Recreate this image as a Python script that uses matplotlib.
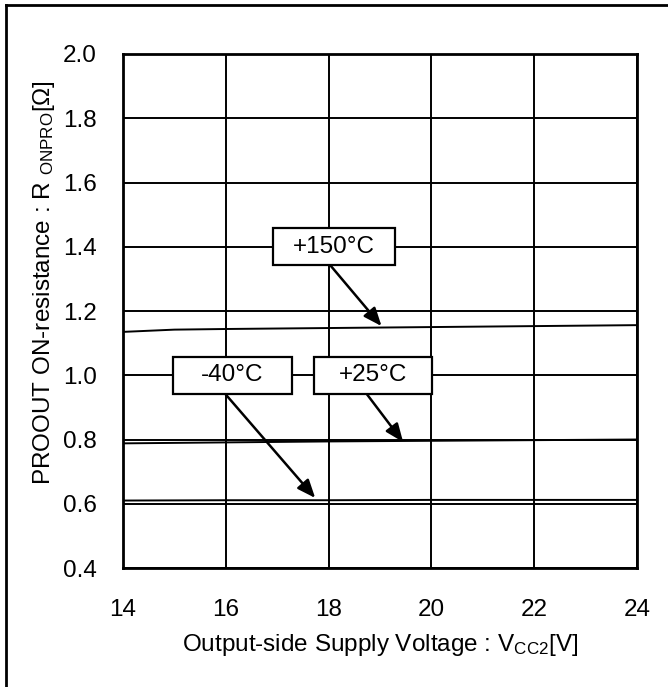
import matplotlib
matplotlib.use("Agg")
import matplotlib.pyplot as plt
from matplotlib.lines import Line2D

plt.rcParams['font.family'] = ['Liberation Sans', 'DejaVu Sans']
plt.rcParams['mathtext.fontset'] = 'custom'
plt.rcParams['mathtext.rm'] = 'Liberation Sans'
plt.rcParams['mathtext.it'] = 'Liberation Sans'

# Data
vcc2_150 = [14, 15, 16, 18, 20, 22, 24]
r_150 = [1.135, 1.142, 1.144, 1.147, 1.150, 1.153, 1.156]
vcc2_25 = [14, 16, 18, 20, 22, 24]
r_25 = [0.788, 0.791, 0.794, 0.796, 0.798, 0.800]
vcc2_m40 = [14, 16, 18, 20, 22, 24]
r_m40 = [0.610, 0.611, 0.611, 0.612, 0.612, 0.612]

x_ticks = [14, 16, 18, 20, 22, 24]
y_ticks = [0.4, 0.6, 0.8, 1.0, 1.2, 1.4, 1.6, 1.8, 2.0]

labels = ['+150°C', '+25°C', '-40°C']
label_xy = [(18.1, 1.40), (18.87, 1.00), (16.13, 1.00)]
label_w = [2.38, 2.30, 2.33]
arrow_start = [(18.03, 1.343), (18.75, 0.940), (16.0, 0.940)]
arrow_end = [(19.03, 1.153), (19.45, 0.792), (17.74, 0.618)]

FS = 17.5

fig = plt.figure(figsize=(6.68, 6.87), dpi=100)
ax = fig.add_axes([0.1841, 0.1732, 0.7695, 0.7482])

for x in x_ticks:
    ax.axvline(x, color='black', lw=1.4, zorder=1)
for y in y_ticks:
    ax.axhline(y, color='black', lw=1.4, zorder=1)

ax.plot(vcc2_150, r_150, color='black', lw=1.4, zorder=2)
ax.plot(vcc2_25, r_25, color='black', lw=1.4, zorder=2)
ax.plot(vcc2_m40, r_m40, color='black', lw=1.4, zorder=2)

ax.set_xlim(14, 24)
ax.set_ylim(0.4, 2.0)
ax.set_xticks(x_ticks)
ax.set_yticks(y_ticks)
ax.set_xticklabels([str(v) for v in x_ticks])
ax.set_yticklabels([f'{v:.1f}' for v in y_ticks])
ax.tick_params(length=0, labelsize=FS)
ax.tick_params(axis='x', pad=22)
ax.tick_params(axis='y', pad=19)
for s in ax.spines.values():
    s.set_linewidth(2)

for lab, (cx, cy), w, st, en in zip(labels, label_xy, label_w, arrow_start, arrow_end):
    rect = plt.Rectangle((cx - w / 2, cy - 0.058), w, 0.116, facecolor='white',
                         edgecolor='black', lw=1.6, zorder=4)
    ax.add_patch(rect)
    ax.text(cx, cy, lab, ha='center', va='center', fontsize=FS, zorder=5)
    ax.annotate('', xy=en, xytext=st,
                arrowprops=dict(arrowstyle='-|>,head_length=1.1,head_width=0.45',
                                color='black', lw=1.8, shrinkA=0, shrinkB=0),
                zorder=3)

ax.set_xlabel('Output-side Supply Voltage : V$_{\\mathrm{CC2}}$[V]', fontsize=FS)
ax.set_ylabel('PROOUT ON-resistance : R $_{\\mathrm{ONPRO}}$[Ω]', fontsize=FS)
ax.xaxis.set_label_coords(0.5, -0.125)
ax.yaxis.set_label_coords(-0.128, 0.556)

# outer frame
fig.add_artist(Line2D([6 / 668, 1.0], [1 - 5 / 687, 1 - 5 / 687],
                      transform=fig.transFigure, color='black', lw=2))
fig.add_artist(Line2D([6 / 668, 6 / 668], [0.0, 1 - 5 / 687],
                      transform=fig.transFigure, color='black', lw=2))

fig.savefig('out.png', dpi=100)
